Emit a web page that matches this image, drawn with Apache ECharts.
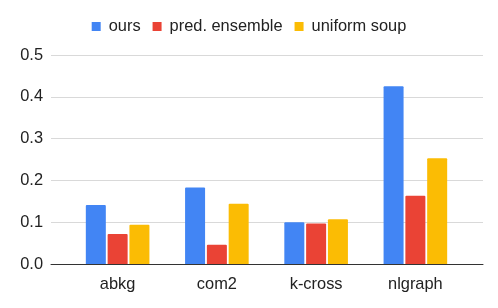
<!DOCTYPE html>
<html><head><meta charset="utf-8">
<script src="https://cdn.jsdelivr.net/npm/echarts@6/dist/echarts.min.js"></script>
<style>html,body{margin:0;padding:0;background:#fff}#c{width:498px;height:308px}</style>
</head><body><div id="c"></div>
<script>
const categories = ['abkg', 'com2', 'k-cross', 'nlgraph'];
const seriesNames = ['ours', 'pred. ensemble', 'uniform soup'];
const ours = [0.141, 0.183, 0.100, 0.425];
const predEnsemble = [0.072, 0.046, 0.097, 0.163];
const uniformSoup = [0.094, 0.144, 0.107, 0.253];
const yTicks = [0, 0.1, 0.2, 0.3, 0.4, 0.5];
const colors = ['#4285F4', '#EA4335', '#FBBC04'];

const font = '"Liberation Sans", Arial, sans-serif';
const chart = echarts.init(document.getElementById('c'));
const values = [ours, predEnsemble, uniformSoup];
chart.setOption({
  animation: false,
  color: colors,
  legend: {
    data: seriesNames,
    left: 'center', top: 13,
    icon: 'rect', itemWidth: 9, itemHeight: 9, itemGap: 12,
    textStyle: { fontFamily: font, fontSize: 16.4, color: '#222', padding: [0, 0, 0, 3], lineHeight: 17 }
  },
  grid: [
    { left: 51, right: 15, top: 55, bottom: 44 },
    { left: 68, right: 33, top: 55, bottom: 44 }
  ],
  xAxis: [
    { type: 'category', gridIndex: 0, data: categories, axisLabel: { show: false }, axisTick: { show: false },
      axisLine: { show: true, lineStyle: { color: '#333', width: 1 } } },
    { type: 'category', gridIndex: 1, data: categories, axisTick: { show: false }, axisLine: { show: false },
      axisLabel: { fontFamily: font, fontSize: 16.4, color: '#222', margin: 12 } }
  ],
  yAxis: [
    { type: 'value', gridIndex: 0, min: yTicks[0], max: yTicks[yTicks.length - 1], interval: 0.1,
      axisLine: { show: false }, axisTick: { show: false },
      axisLabel: { fontFamily: font, fontSize: 16.4, color: '#222', margin: 8, formatter: v => v.toFixed(1) },
      splitLine: { lineStyle: { color: '#d9d9d9', width: 1 } } },
    { type: 'value', gridIndex: 1, min: yTicks[0], max: yTicks[yTicks.length - 1], interval: 0.1,
      show: false, splitLine: { show: false } }
  ],
  series: seriesNames.map((n, i) => ({
    name: n, type: 'bar', xAxisIndex: 1, yAxisIndex: 1, data: values[i],
    barWidth: 20, barGap: '9%',
    itemStyle: { color: colors[i], borderRadius: [1, 1, 0, 0] }
  }))
});
</script></body></html>
